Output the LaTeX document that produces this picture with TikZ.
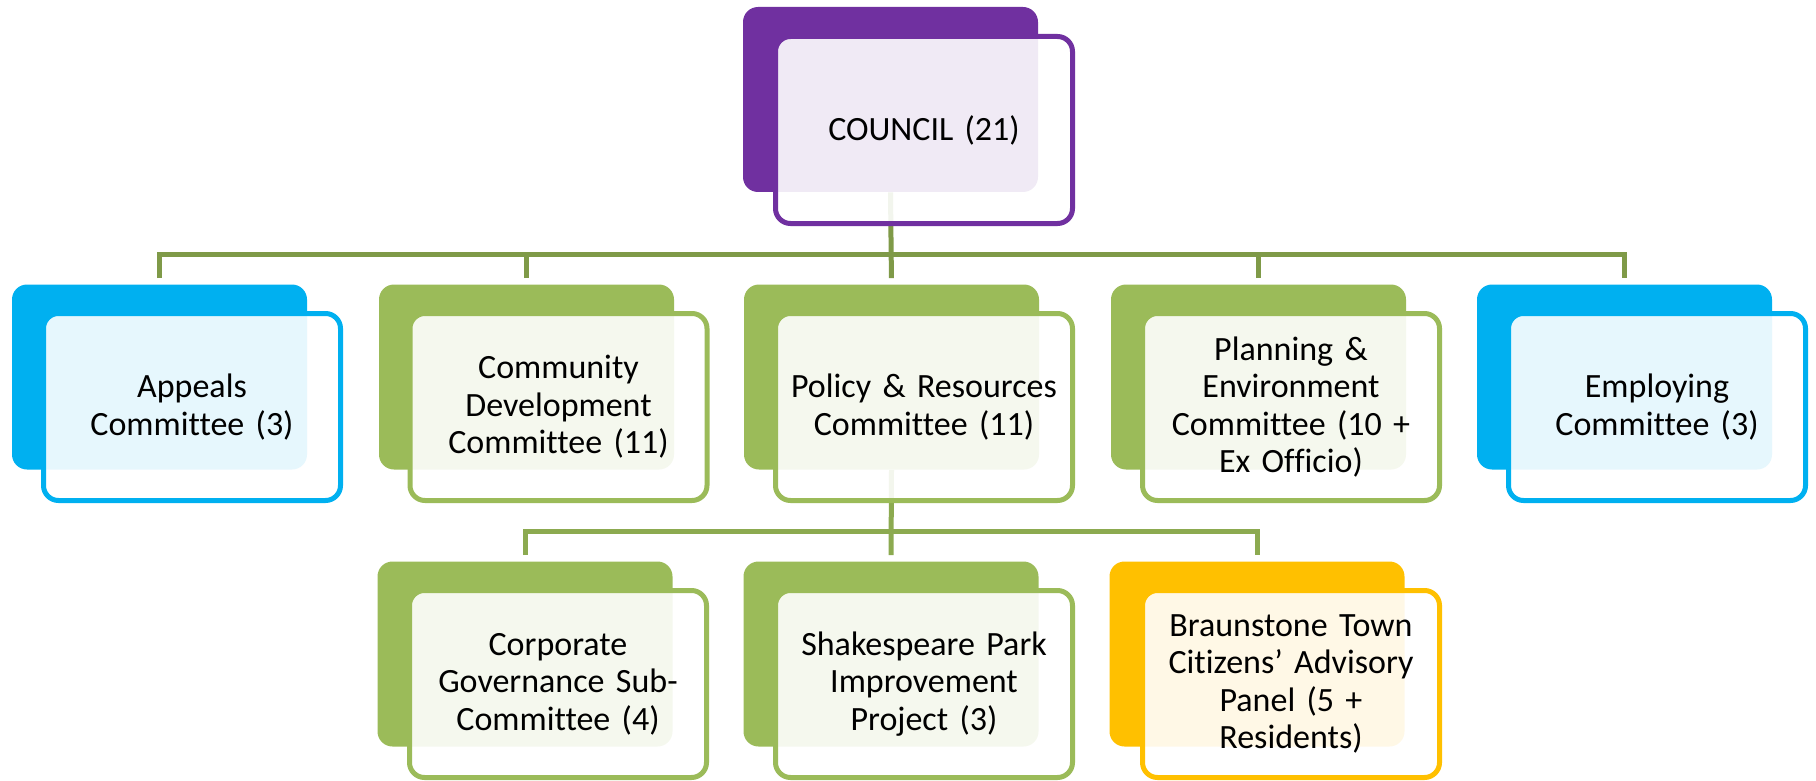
\documentclass[tikz,border=0pt]{standalone}
\usepackage{fontspec}
\setmainfont[Ligatures=NoCommon]{Carlito}
\definecolor{cpurple}{HTML}{7030A0}
\definecolor{cblue}{HTML}{00B0F0}
\definecolor{cgreen}{HTML}{9BBB59}
\definecolor{cyellow}{HTML}{FFC000}
\definecolor{connA}{HTML}{7F9A48}
\definecolor{connB}{HTML}{8CAA50}
\tikzset{
  backbox/.style={rounded corners=7.5pt, minimum width=147.5pt, minimum height=92.5pt, inner sep=0pt, draw=none, fill=#1},
  frontbox/.style={rounded corners=7.5pt, minimum width=148.5pt, minimum height=93.5pt, inner sep=0pt, line width=2.5pt, draw=#1, fill=white, fill opacity=0.9, text opacity=1, align=center, text width=140pt, font=\fontsize{17}{18.8}\selectfont},
  conn/.style={line width=2.5pt, draw=#1},
}
\begin{document}
\begin{tikzpicture}[x=0.5pt,y=-0.5pt]
\useasboundingbox (0,0) rectangle (1816,781);
% back boxes
\node[backbox=cpurple] (cb) at (890.5,99.5) {};
\node[backbox=cblue]  (ab) at (159.5,377) {};
\node[backbox=cgreen] (db) at (526.5,377) {};
\node[backbox=cgreen] (pb) at (891.5,377) {};
\node[backbox=cgreen] (eb) at (1258.5,377) {};
\node[backbox=cblue]  (mb) at (1624.5,377) {};
\node[backbox=cgreen] (gb) at (525,654) {};
\node[backbox=cgreen] (sb) at (891,654) {};
\node[backbox=cyellow] (tb) at (1257,654) {};
% bar coordinates
\coordinate (bar1) at (891,254);
\coordinate (bar2) at (891,531);
% connectors level 1
\draw[conn=connA, shorten >=3pt] (cb.south) -- (pb.north);
\draw[conn=connA, shorten <=3pt, shorten >=3pt] (ab.north) |- (bar1) -| (mb.north);
\draw[conn=connA, shorten <=3pt] (db.north) -- (db.north |- bar1);
\draw[conn=connA, shorten <=3pt] (eb.north) -- (eb.north |- bar1);
% connectors level 2
\draw[conn=connB, shorten >=3pt] (pb.south) -- (sb.north);
\draw[conn=connB, shorten <=3pt, shorten >=3pt] (gb.north) |- (bar2) -| (tb.north);
% front boxes
\node[frontbox=cpurple] (c) at (924,130) {COUNCIL (21)};
\node[frontbox=cblue]  (a) at (192,407) {Appeals\\Committee (3)};
\node[frontbox=cgreen] (d) at (558.5,407) {Community\\Development\\Committee (11)};
\node[frontbox=cgreen] (p) at (924,407) {Policy \& Resources\\Committee (11)};
\node[frontbox=cgreen] (e) at (1291,407) {Planning \&\\Environment\\Committee (10 +\\Ex Officio)};
\node[frontbox=cblue]  (m) at (1657,407) {Employing\\Committee (3)};
\node[frontbox=cgreen] (g) at (558,684) {Corporate\\Governance Sub-\\Committee (4)};
\node[frontbox=cgreen] (s) at (924,684) {Shakespeare Park\\Improvement\\Project (3)};
\node[frontbox=cyellow] (t) at (1291,684) {Braunstone Town\\Citizens’ Advisory\\Panel (5 +\\Residents)};
\end{tikzpicture}
\end{document}
